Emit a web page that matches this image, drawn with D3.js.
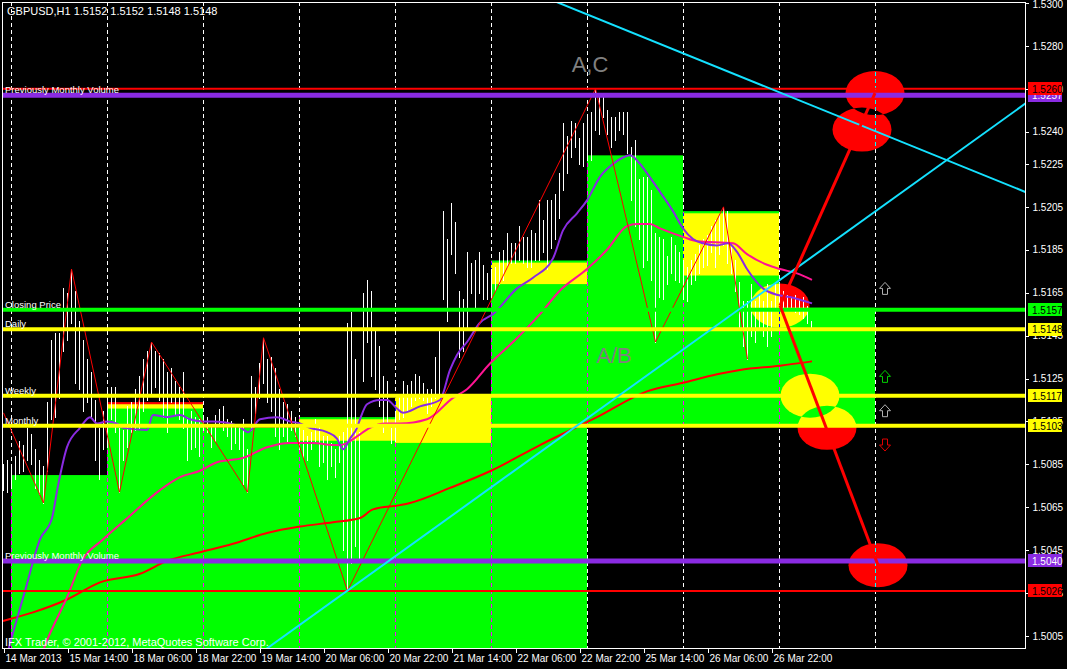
<!DOCTYPE html>
<html><head><meta charset="utf-8">
<script src="https://cdn.jsdelivr.net/npm/d3@7"></script>
<style>
html,body{margin:0;padding:0;background:#000;overflow:hidden;}
svg{display:block;}
text{font-family:"Liberation Sans",Arial,sans-serif;}
</style></head><body>
<svg id="c" width="1067" height="669"></svg>
<script>
const W = 1067, H = 669;
const titleText = "GBPUSD,H1  1.5152 1.5152 1.5148 1.5148";
const copyrightText = "IFX Trader, \u00a9 2001-2012, MetaQuotes Software Corp.";

// time axis (bar index of each label)
const timeTickBars = [0,16,32,48,64,80,96,112,128,144,160,176,192];
const timeTickLabels = ["14 Mar 2013","15 Mar 14:00","18 Mar 06:00","18 Mar 22:00","19 Mar 14:00","20 Mar 06:00","20 Mar 22:00","21 Mar 14:00","22 Mar 06:00","22 Mar 22:00","25 Mar 14:00","26 Mar 06:00","26 Mar 22:00"];
// day separators (bar index)
const daySeparatorBars = [2,26,50,74,98,122,146,170,194,218];
// price axis
const priceTicks = [1.5300,1.5280,1.5260,1.5240,1.5225,1.5205,1.5185,1.5165,1.5145,1.5125,1.5105,1.5085,1.5065,1.5045,1.5025,1.5005];

// H1 bars
const barHigh = [
1.5085,1.5087,1.5085,1.5089,1.5096,1.5094,1.5102,1.5099,1.5092,1.5087,
1.5084,1.5114,1.5143,1.5146,1.5146,1.5167,1.5165,1.5176,1.5166,1.5152,
1.5143,1.5134,1.5128,1.5115,1.5102,1.5110,1.5121,1.5121,1.5121,1.5102,
1.5101,1.5112,1.5114,1.5120,1.5126,1.5134,1.5138,1.5142,1.5138,1.5137,
1.5134,1.5128,1.5130,1.5124,1.5121,1.5128,1.5107,1.5110,1.5107,1.5106,
1.5107,1.5107,1.5103,1.5108,1.5111,1.5112,1.5106,1.5105,1.5104,1.5104,
1.5106,1.5092,1.5126,1.5121,1.5132,1.5144,1.5134,1.5135,1.5130,1.5120,
1.5114,1.5113,1.5110,1.5107,1.5103,1.5101,1.5098,1.5100,1.5106,1.5104,
1.5098,1.5098,1.5095,1.5092,1.5098,1.5100,1.5151,1.5156,1.5134,1.5100,
1.5165,1.5171,1.5166,1.5148,1.5140,1.5126,1.5124,1.5102,1.5110,1.5117,
1.5124,1.5122,1.5124,1.5127,1.5126,1.5123,1.5120,1.5120,1.5135,1.5147,
1.5203,1.5190,1.5207,1.5198,1.5166,1.5162,1.5184,1.5179,1.5180,1.5184,
1.5178,1.5174,1.5176,1.5177,1.5184,1.5185,1.5193,1.5188,1.5188,1.5196,
1.5191,1.5191,1.5194,1.5193,1.5208,1.5199,1.5208,1.5208,1.5211,1.5221,
1.5244,1.5238,1.5245,1.5244,1.5237,1.5244,1.5247,1.5249,1.5260,1.5256,
1.5256,1.5250,1.5247,1.5247,1.5249,1.5249,1.5249,1.5233,1.5236,1.5218,
1.5219,1.5219,1.5213,1.5193,1.5191,1.5190,1.5182,1.5191,1.5187,1.5184,
1.5180,1.5177,1.5180,1.5183,1.5187,1.5190,1.5192,1.5196,1.5199,1.5201,
1.5205,1.5203,1.5187,1.5180,1.5170,1.5161,1.5161,1.5169,1.5161,1.5164,
1.5161,1.5169,1.5161,1.5170,1.5169,1.5166,1.5164,1.5163,1.5164,1.5162,
1.5163,1.5159,1.5152];
const barLow = [
1.5073,1.5072,1.5074,1.5078,1.5081,1.5082,1.5087,1.5085,1.5074,1.5071,
1.5067,1.5082,1.5106,1.5107,1.5116,1.5138,1.5143,1.5151,1.5123,1.5120,
1.5110,1.5114,1.5107,1.5087,1.5078,1.5092,1.5093,1.5106,1.5100,1.5072,
1.5087,1.5093,1.5100,1.5101,1.5102,1.5110,1.5115,1.5118,1.5121,1.5115,
1.5107,1.5100,1.5114,1.5108,1.5106,1.5102,1.5087,1.5092,1.5093,1.5089,
1.5101,1.5100,1.5093,1.5096,1.5104,1.5101,1.5098,1.5092,1.5095,1.5092,
1.5076,1.5072,1.5101,1.5109,1.5116,1.5123,1.5114,1.5110,1.5098,1.5092,
1.5098,1.5096,1.5101,1.5098,1.5092,1.5088,1.5087,1.5092,1.5096,1.5084,
1.5086,1.5078,1.5084,1.5079,1.5086,1.5045,1.5026,1.5039,1.5047,1.5040,
1.5124,1.5142,1.5126,1.5120,1.5112,1.5100,1.5104,1.5095,1.5096,1.5106,
1.5107,1.5110,1.5112,1.5115,1.5116,1.5115,1.5109,1.5112,1.5116,1.5118,
1.5162,1.5152,1.5183,1.5174,1.5135,1.5138,1.5149,1.5165,1.5158,1.5165,
1.5162,1.5162,1.5163,1.5166,1.5169,1.5171,1.5177,1.5179,1.5179,1.5180,
1.5179,1.5177,1.5177,1.5180,1.5180,1.5184,1.5176,1.5186,1.5190,1.5200,
1.5213,1.5221,1.5228,1.5233,1.5225,1.5224,1.5227,1.5227,1.5241,1.5239,
1.5247,1.5239,1.5233,1.5236,1.5241,1.5239,1.5230,1.5208,1.5196,1.5190,
1.5177,1.5180,1.5171,1.5142,1.5163,1.5162,1.5169,1.5174,1.5171,1.5170,
1.5162,1.5161,1.5169,1.5171,1.5174,1.5177,1.5178,1.5184,1.5177,1.5183,
1.5187,1.5179,1.5174,1.5166,1.5148,1.5140,1.5134,1.5145,1.5142,1.5148,
1.5145,1.5140,1.5145,1.5158,1.5158,1.5156,1.5158,1.5157,1.5156,1.5155,
1.5153,1.5151,1.5148];

// moving averages: [bar index, price]
const fastMA = [[0,1.4989],[2,1.5003],[5.5,1.5026],[9.25,1.5050],[12.25,1.5060],[13.75,1.5075],[16,1.5093],[19.25,1.5102],[21.75,1.5107],[23.5,1.5104],[26,1.5105],[28.5,1.5104],[30,1.5102],[36,1.5101],[37.5,1.5108],[41,1.5107],[44.25,1.5108],[46.75,1.5106],[50,1.5105],[52.5,1.5105],[58.75,1.5103],[61.25,1.5100],[64.25,1.5106],[68.5,1.5107],[71.75,1.5105],[74.25,1.5104],[76.75,1.5102],[81,1.5100],[83.5,1.5097],[85,1.5092],[86.75,1.5097],[88.5,1.5102],[89.25,1.5106],[91,1.5113],[94.25,1.5115],[96,1.5115],[98.5,1.5111],[100,1.5109],[104.25,1.5112],[109.25,1.5115],[111.75,1.5129],[113.5,1.5136],[116,1.5142],[119.25,1.5151],[122.5,1.5155],[128.5,1.5167],[132.5,1.5172],[137.5,1.5181],[140,1.5194],[143.5,1.5202],[146,1.5208],[149.25,1.5219],[152.5,1.5225],[155,1.5228],[156.75,1.5229],[159.25,1.5225],[161.25,1.5220],[164.25,1.5212],[167.5,1.5203],[170,1.5195],[172.5,1.5190],[175,1.5188],[178.5,1.5187],[181.25,1.5188],[183.5,1.5184],[186,1.5176],[190,1.5167],[193.5,1.5164],[196.75,1.5163],[202.25,1.5160]];
const midMA = [[9,1.4993],[11.25,1.5004],[16,1.5023],[19.75,1.5040],[25,1.5050],[30.5,1.5059],[39.25,1.5073],[44.25,1.5079],[49.25,1.5082],[53.5,1.5086],[60,1.5088],[66,1.5093],[71.75,1.5095],[77.5,1.5095],[82.5,1.5094],[84.25,1.5094],[86,1.5095],[88.5,1.5098],[91.75,1.5102],[95.5,1.5104],[99.25,1.5104],[106,1.5106],[112.5,1.5116],[116,1.5120],[121.75,1.5132],[127.5,1.5142],[134.25,1.5155],[139.25,1.5166],[146,1.5176],[151,1.5185],[156,1.5196],[158.5,1.5197],[161.75,1.5197],[164.25,1.5195],[170,1.5191],[173.5,1.5189],[182.5,1.5188],[186,1.5183],[191,1.5178],[194.25,1.5176],[198.5,1.5174],[202.25,1.5171]];
const slowMA = [[0,1.5012],[2,1.5013],[7.5,1.5016],[16,1.5022],[24.25,1.5030],[34.25,1.5034],[41,1.5040],[49.25,1.5044],[57.5,1.5048],[66,1.5053],[74.25,1.5056],[82.5,1.5058],[89.25,1.5060],[92.5,1.5064],[99.25,1.5066],[101.75,1.5067],[111.75,1.5074],[122,1.5082],[134.25,1.5094],[148.5,1.5107],[161,1.5119],[170,1.5123],[178.5,1.5127],[184.25,1.5129],[194.25,1.5131],[202.25,1.5133]];
// zigzag [bar, price]
const zigzag = [[0,1.5109],[10,1.5067],[17,1.5176],[29,1.5072],[37,1.5142],[61,1.5072],[65,1.5144],[86,1.5026],[148,1.5260],[163,1.5142],[180,1.5205],[186,1.5134]];

// daily zones
const zoneStartBars = [2,26,50,74,98,122,146,170,194];
const zoneGreenTop = [1.5080,1.5113,1.5102,1.5107,1.5117,1.5180,1.5229,1.5203,1.5158];
const zoneGreenBottom = [1.4980,1.4980,1.4980,1.4980,1.4980,1.4980,1.5103,1.5103,1.5103];
const zoneRedTop = [null,1.5114,null,1.5106,1.5117,1.5179,null,1.5202,null];
const zoneRedBottom = [null,1.5111,null,1.5096,1.5095,1.5169,null,1.5173,null];

// horizontal levels
const levelPrices = [1.5257,1.5260,1.5157,1.5148,1.5117,1.5103,1.5040,1.5026];
const levelColors = ["#8a2be2","#ff0000","#00ff00","#ffff00","#ffff00","#ffff00","#8a2be2","#ff0000"];
const levelWidths = [5,2,4,4,4,4,5,2];
const levelTextColors = ["#ffffff","#000000","#000000","#000000","#000000","#000000","#ffffff","#000000"];
const levelNames = ["Previously Monthly Volume","Closing Price","Daily","Weekly","Monthly","Previously Monthly Volume"];
const levelNamePrices = [1.5257,1.5157,1.5148,1.5117,1.5103,1.5040];

// projection ellipses and lines
const ellipseBars = [218,214.75,194.25,201.75,206,218.75];
const ellipsePrices = [1.5258,1.5241,1.5159,1.5117,1.5102,1.5038];
const projectionFrom = [194.25,1.5159];
const projectionTo = [[218,1.5258],[218.75,1.5038]];
// trend lines: two anchors each
const trendLines = [[[139,1.5300],[255.5,1.5212]],[[86,1.5026],[255.5,1.5253]]];
// signal arrows
const arrowBar = 220.5;
const arrowPrices = [1.5167,1.5126,1.5110,1.5094];
const arrowDirs = ["up","up","up","down"];
const arrowColors = ["#b0b0b0","#00d000","#b0b0b0","#e00000"];
// annotations
const annotTexts = ["A,C","A/B"];
const annotBars = [146.75,152.75];
const annotPrices = [1.5268,1.5132];

// ---------- drawing ----------
const x = d3.scaleLinear().domain([0,255.5]).range([3,1025]);
const y = d3.scaleLinear().domain([1.5005,1.5300]).range([636,3]);

const svg = d3.select("#c");
svg.append("rect").attr("width",W).attr("height",H).attr("fill","#000");
svg.append("defs").append("clipPath").attr("id","plot")
  .append("rect").attr("x",2).attr("y",2).attr("width",1023).attr("height",646);

// background objects, XOR-like blending
const bgClip = svg.append("g").attr("clip-path","url(#plot)");
const bg = bgClip.append("g").style("isolation","isolate");
bg.append("rect").attr("x",0).attr("y",0).attr("width",W).attr("height",H).attr("fill","#000");
const blend = s => s.style("mix-blend-mode","difference");

zoneStartBars.forEach((b,k)=>{
  blend(bg.append("rect").attr("x",x(b)).attr("width",x(b+24)-x(b))
    .attr("y",y(zoneGreenTop[k])).attr("height",y(zoneGreenBottom[k])-y(zoneGreenTop[k]))
    .attr("fill","#00ff00"));
  if(zoneRedTop[k]!==null){
    blend(bg.append("rect").attr("x",x(b)).attr("width",x(b+24)-x(b))
      .attr("y",y(zoneRedTop[k])).attr("height",y(zoneRedBottom[k])-y(zoneRedTop[k]))
      .attr("fill","#ff0000"));
  }
});
ellipseBars.forEach((b,k)=>{
  blend(bg.append("ellipse").attr("cx",x(b)).attr("cy",y(ellipsePrices[k]))
    .attr("rx",29.5).attr("ry",22).attr("fill","#ff0000"));
});
daySeparatorBars.forEach(b=>{
  blend(bg.append("line").attr("x1",x(b)+0.5).attr("x2",x(b)+0.5).attr("y1",2).attr("y2",648)
    .attr("stroke","#ffffff").attr("stroke-width",1).attr("stroke-dasharray","4,3")
    .attr("shape-rendering","crispEdges"));
});

const fg = svg.append("g").attr("clip-path","url(#plot)");

// bars
fg.append("g").selectAll("line").data(barHigh).join("line")
  .attr("x1",(d,i)=>x(i)+0.5).attr("x2",(d,i)=>x(i)+0.5)
  .attr("y1",d=>y(d)).attr("y2",(d,i)=>y(barLow[i])+1)
  .attr("stroke","#ffffff").attr("stroke-width",1).attr("shape-rendering","crispEdges");

// moving averages
const maLine = d3.line().x(d=>x(d[0])).y(d=>y(d[1])).curve(d3.curveMonotoneX);
fg.append("path").attr("d",maLine(slowMA)).attr("fill","none").attr("stroke","#ff0000").attr("stroke-width",2);
fg.append("path").attr("d",maLine(midMA)).attr("fill","none").attr("stroke","#ff1493").attr("stroke-width",2);
fg.append("path").attr("d",maLine(fastMA)).attr("fill","none").attr("stroke","#8a2be2").attr("stroke-width",2);

// zigzag
const zz = d3.line().x(d=>x(d[0])+0.5).y(d=>y(d[1]));
fg.append("path").attr("d",zz(zigzag)).attr("fill","none").attr("stroke","#ff0000").attr("stroke-width",1);

// horizontal levels
levelPrices.forEach((p,k)=>{
  fg.append("line").attr("x1",2).attr("x2",1025).attr("y1",y(p)).attr("y2",y(p))
    .attr("stroke",levelColors[k]).attr("stroke-width",levelWidths[k]);
});
levelNames.forEach((t,k)=>{
  fg.append("text").attr("x",5).attr("y",y(levelNamePrices[k])-2)
    .attr("fill","#ffffff").attr("font-size",9.5).text(t);
});

// trend lines (extended)
trendLines.forEach(tl=>{
  const [a,b] = tl;
  const slope = (b[1]-a[1])/(b[0]-a[0]);
  const p0 = [-10, a[1]+slope*(-10-a[0])];
  const p1 = [260, a[1]+slope*(260-a[0])];
  fg.append("line").attr("x1",x(p0[0])).attr("y1",y(p0[1])).attr("x2",x(p1[0])).attr("y2",y(p1[1]))
    .attr("stroke","#14e1ff").attr("stroke-width",2);
});

// projection lines
projectionTo.forEach(pt=>{
  fg.append("line").attr("x1",x(projectionFrom[0])).attr("y1",y(projectionFrom[1]))
    .attr("x2",x(pt[0])).attr("y2",y(pt[1])).attr("stroke","#ff0000").attr("stroke-width",3);
});

// arrows
arrowPrices.forEach((p,k)=>{
  const s = arrowDirs[k]==="up" ? 1 : -1;
  const cx = x(arrowBar), cy = y(p);
  const pts = [[0,-6],[5.5,0],[2.5,0],[2.5,6],[-2.5,6],[-2.5,0],[-5.5,0]].map(q=>[cx+q[0], cy+q[1]*s]);
  fg.append("path").attr("d","M"+pts.map(q=>q.join(",")).join("L")+"Z")
    .attr("fill","none").attr("stroke",arrowColors[k]).attr("stroke-width",1);
});

// annotations
annotTexts.forEach((t,k)=>{
  fg.append("text").attr("x",x(annotBars[k])).attr("y",y(annotPrices[k]))
    .attr("text-anchor","middle").attr("font-size",22).attr("fill","#808080").text(t);
});

fg.append("text").attr("x",5).attr("y",646).attr("font-size",11).attr("fill","#ffffff").text(copyrightText);
svg.append("text").attr("x",7).attr("y",15).attr("font-size",11).attr("fill","#ffffff").text(titleText);

// frame
svg.append("rect").attr("x",2.5).attr("y",2.5).attr("width",1022.5).attr("height",645.5)
  .attr("fill","none").attr("stroke","#ffffff").attr("stroke-width",1).attr("shape-rendering","crispEdges");

// price axis
const ya = svg.append("g").attr("transform","translate(1025.5,0)")
  .call(d3.axisRight(y).tickValues(priceTicks).tickFormat(d3.format(".4f")).tickSize(3).tickPadding(4));
ya.select(".domain").remove();
ya.selectAll("line").attr("stroke","#ffffff").attr("shape-rendering","crispEdges");
ya.selectAll("text").attr("fill","#ffffff").attr("font-size",10).attr("font-family","Liberation Sans, Arial, sans-serif");
ya.selectAll(".tick").filter(d=>d===1.5300).select("text").attr("dy","0.7em").attr("y",-3);

// coloured level price labels
levelPrices.forEach((p,k)=>{
  svg.append("rect").attr("x",1028).attr("y",Math.round(y(p)-6.5)).attr("width",34).attr("height",13).attr("fill",levelColors[k]);
  svg.append("text").attr("x",1032).attr("y",y(p)+4).attr("font-size",10).attr("fill",levelTextColors[k]).text(d3.format(".4f")(p));
});

// time axis
const xa = svg.append("g").attr("transform","translate(0,648.5)")
  .call(d3.axisBottom(x).tickValues(timeTickBars).tickFormat((d,k)=>timeTickLabels[k]).tickSize(4).tickPadding(2));
xa.select(".domain").remove();
xa.selectAll("line").attr("stroke","#ffffff").attr("transform","translate(0.5,0)").attr("shape-rendering","crispEdges");
xa.selectAll("text").attr("fill","#ffffff").attr("font-size",10).attr("text-anchor","start").attr("x",2)
  .attr("font-family","Liberation Sans, Arial, sans-serif");
</script>
</body></html>
